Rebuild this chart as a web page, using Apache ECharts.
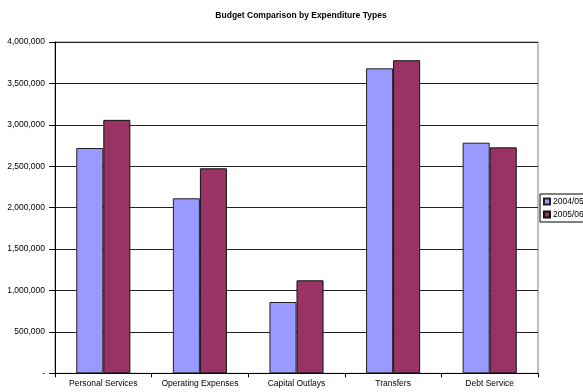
<!DOCTYPE html>
<html>
<head>
<meta charset="utf-8">
<script src="https://cdn.jsdelivr.net/npm/echarts@6/dist/echarts.min.js"></script>
<style>
  html, body { margin: 0; padding: 0; background: #fff; }
  #chart { width: 583px; height: 392px; }
</style>
</head>
<body>
<div id="chart"></div>
<script>
// 数据
const categories = ['Personal Services', 'Operating Expenses', 'Capital Outlays', 'Transfers', 'Debt Service']
const fy0405 = [2720000, 2113000, 861000, 3682000, 2784000]
const fy0506 = [3060000, 2475000, 1123000, 3780000, 2728000]
const seriesNames = ['2004/05', '2005/06']

const font = 'Arial, "Liberation Sans", sans-serif'

const chart = echarts.init(document.getElementById('chart'))

const option = {
  animation: false,
  backgroundColor: '#fff',
  title: {
    text: 'Budget Comparison by Expenditure Types',
    left: 296,
    textAlign: 'center',
    top: 6,
    textStyle: { fontFamily: font, fontSize: 8.5, fontWeight: 'bold', color: '#000' },
  },
  legend: {
    orient: 'vertical',
    left: 540,
    top: 194,
    data: seriesNames,
    borderColor: '#000',
    borderWidth: 1,
    borderRadius: 0,
    padding: [3, 12, 3, 3],
    itemWidth: 6,
    itemHeight: 6,
    itemGap: 4,
    icon: 'rect',
    textStyle: { fontFamily: font, fontSize: 8.5, color: '#000', padding: [0, 0, 0, -2] },
  },
  grid: {
    left: 55,
    right: 45,
    top: 42,
    bottom: 18.7,
    show: true,
    borderColor: '#808080',
    borderWidth: 1,
  },
  xAxis: {
    type: 'category',
    data: categories,
    axisLine: { lineStyle: { color: '#000', width: 1 } },
    axisTick: { show: true, length: 4, lineStyle: { color: '#000' } },
    axisLabel: { fontFamily: font, fontSize: 8.5, color: '#000', margin: 6, interval: 0 },
  },
  yAxis: {
    type: 'value',
    min: 0,
    max: 4000000,
    interval: 500000,
    axisLine: { show: true, lineStyle: { color: '#000', width: 1 } },
    axisTick: { show: true, length: 6, lineStyle: { color: '#000' } },
    axisLabel: {
      fontFamily: font,
      fontSize: 8.5,
      color: '#000',
      margin: 10,
      formatter: (v) => (v === 0 ? '-' : v.toLocaleString('en-US')),
    },
    splitLine: { show: true, lineStyle: { color: '#222', width: 1 } },
  },
  series: [
    {
      name: seriesNames[0],
      type: 'bar',
      data: fy0405,
      barGap: '0%',
      barCategoryGap: '44%',
      itemStyle: { color: '#9999FF', borderColor: '#222', borderWidth: 1 },
    },
    {
      name: seriesNames[1],
      type: 'bar',
      data: fy0506,
      itemStyle: { color: '#993366', borderColor: '#111', borderWidth: 1 },
    },
  ],
}

chart.setOption(option)
</script>
</body>
</html>
